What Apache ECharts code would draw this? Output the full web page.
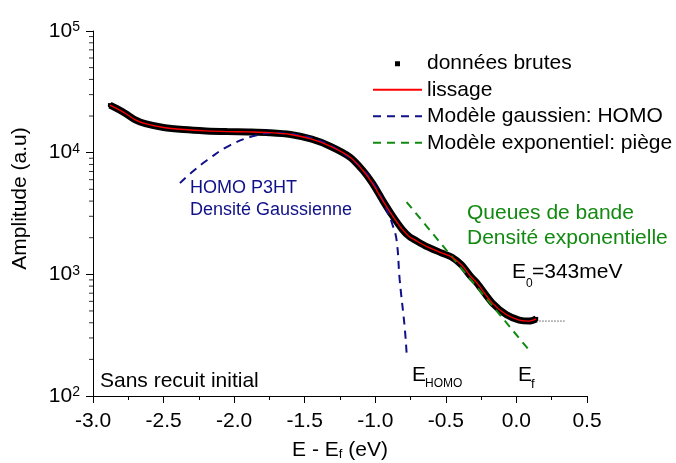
<!DOCTYPE html>
<html><head><meta charset="utf-8">
<script src="https://cdn.jsdelivr.net/npm/echarts@6/dist/echarts.min.js"></script>
<style>html,body{margin:0;padding:0;background:#fff}#c{width:676px;height:463px}</style>
</head><body><div id="c"></div>
<script>
const FONT = '"Liberation Sans", Arial, sans-serif';
const NAVY = '#10108a';
const GREEN = '#128a12';

// raw data
const rawE = [-2.88, -2.83, -2.77, -2.70, -2.63, -2.50, -2.36, -2.20, -2.05, -1.90, -1.75, -1.60, -1.45, -1.32, -1.18, -1.09, -1.02, -0.95, -0.88, -0.81, -0.76, -0.72, -0.63, -0.53, -0.46, -0.39, -0.32, -0.28, -0.17, -0.07, 0.02, 0.09, 0.14];
const rawAmp = [24600, 23000, 21000, 18600, 17300, 16100, 15500, 15100, 14900, 14800, 14600, 14100, 12900, 11300, 9200, 7200, 5600, 4100, 3050, 2350, 2050, 1920, 1680, 1500, 1390, 1200, 950, 850, 580, 465, 421, 413, 430];
// smoothing (lissage)
const smoothE = [-2.88, -2.83, -2.77, -2.70, -2.63, -2.50, -2.36, -2.20, -2.05, -1.90, -1.75, -1.60, -1.45, -1.32, -1.18, -1.09, -1.02, -0.95, -0.88, -0.81, -0.76, -0.72, -0.63, -0.53, -0.46, -0.39, -0.32, -0.28, -0.17, -0.07, 0.02, 0.09, 0.14];
const smoothAmp = [24600, 23000, 21000, 18600, 17300, 16100, 15500, 15100, 14900, 14800, 14600, 14100, 12900, 11300, 9200, 7200, 5600, 4100, 3050, 2350, 2050, 1920, 1680, 1500, 1390, 1200, 950, 850, 580, 465, 421, 413, 430];
// gaussian model (HOMO)
const gaussE = [-2.384, -2.30, -2.19, -2.03, -1.84, -1.70, -1.55, -1.40, -1.25, -1.10, -1.00, -0.948, -0.912, -0.877, -0.849, -0.827, -0.792, -0.778];
const gaussAmp = [5620, 6900, 8700, 11500, 13900, 14500, 14000, 12600, 10300, 7500, 5300, 4070, 3250, 2540, 1910, 900, 370, 225];
// exponential model (traps)
const expoE = [-0.778, 0.107];
const expoAmp = [3930, 225];
// dotted baseline continuation
const dotE = [0.142, 0.34];
const dotAmp = [413, 413];

const xTicks = [-3.0, -2.5, -2.0, -1.5, -1.0, -0.5, 0.0, 0.5];
const yTickExps = [2, 3, 4, 5];
const yMinorTicks = [200,300,400,500,600,700,800,900,2000,3000,4000,5000,6000,7000,8000,9000,20000,30000,40000,50000,60000,70000,80000,90000];

const legendNames = ['données brutes', 'lissage', 'Modèle gaussien: HOMO', 'Modèle exponentiel: piège'];

const zip = (a, b) => a.map((v, i) => [v, b[i]]);

const chart = echarts.init(document.getElementById('c'), null, {renderer: 'canvas'});
chart.setOption({
  backgroundColor: '#fff',
  animation: false,
  textStyle: {fontFamily: FONT},
  grid: {left: 93, right: 89, top: 31, bottom: 67, containLabel: false, outerBoundsMode: 'none'},
  legend: {
    left: 367, top: 45, orient: 'vertical', padding: 5,
    itemWidth: 49, itemHeight: 10, itemGap: 0,
    textStyle: {fontFamily: FONT, fontSize: 21, color: '#000', lineHeight: 26.5},
    data: [
      {name: legendNames[0], icon: 'path://M0,0M49,10M22,3h5v5h-5z'},
      {name: legendNames[1], itemStyle: {opacity: 0}},
      {name: legendNames[2], itemStyle: {opacity: 0}},
      {name: legendNames[3], itemStyle: {opacity: 0}}
    ]
  },
  xAxis: {
    type: 'value', min: -3, max: 0.5, interval: 0.5,
    axisLine: {show: true, onZero: false, lineStyle: {color: '#000', width: 1}},
    axisTick: {show: true, length: 7, lineStyle: {color: '#000'}},
    minorTick: {show: true, splitNumber: 2, length: 4, lineStyle: {color: '#000'}},
    splitLine: {show: false},
    axisLabel: {
      margin: 15, color: '#000', fontSize: 21, fontFamily: FONT,
      formatter: v => { const t = xTicks.find(x => Math.abs(x - v) < 1e-6); return (t !== undefined ? t : v).toFixed(1); }
    },
    name: '{a|E - E}{f|f}{a| (eV)}',
    nameLocation: 'middle', nameGap: 44,
    nameTextStyle: {
      color: '#000', fontFamily: FONT,
      rich: {
        a: {fontSize: 21, lineHeight: 21, fontFamily: FONT, color: '#000', verticalAlign: 'top', padding: [0, 0, 5, 0]},
        f: {fontSize: 13, lineHeight: 13, fontFamily: FONT, color: '#000', verticalAlign: 'bottom'}
      }
    }
  },
  yAxis: {
    type: 'log', logBase: 10, min: 100, max: 100000,
    axisLine: {show: true, onZero: false, lineStyle: {color: '#000', width: 1}},
    axisTick: {show: true, length: 7, lineStyle: {color: '#000'}},
    splitLine: {show: false},
    axisLabel: {
      margin: 13, color: '#000', fontFamily: FONT,
      formatter: v => { const e = Math.round(Math.log10(v)); return yTickExps.includes(e) ? '{b|10}{s|' + e + '}' : ''; },
      rich: {
        b: {fontSize: 21, lineHeight: 21, fontFamily: FONT, color: '#000', verticalAlign: 'bottom', padding: [4, 0, 0, 0]},
        s: {fontSize: 14, lineHeight: 14, fontFamily: FONT, color: '#000', verticalAlign: 'top'}
      }
    },
    name: 'Amplitude (a.u)',
    nameLocation: 'middle', nameGap: 62,
    nameTextStyle: {fontSize: 21, fontFamily: FONT, color: '#000', padding: [0, 0, 0, 30]}
  },
  series: [
    {
      name: legendNames[0], type: 'line', data: zip(rawE, rawAmp),
      smooth: 0.3, symbol: 'rect', symbolSize: 4, showSymbol: true,
      lineStyle: {color: '#000', width: 7}, itemStyle: {color: '#000'},
      z: 2, silent: true
    },
    {
      name: legendNames[2], type: 'line', data: zip(gaussE, gaussAmp),
      smooth: 0.45, symbol: 'none',
      lineStyle: {color: NAVY, width: 2, type: [8, 6]}, itemStyle: {color: NAVY},
      z: 3, silent: true
    },
    {
      name: legendNames[3], type: 'line', data: zip(expoE, expoAmp),
      symbol: 'none',
      lineStyle: {color: GREEN, width: 2, type: [8, 6]}, itemStyle: {color: GREEN},
      z: 3, silent: true
    },
    {
      name: legendNames[1], type: 'line', data: zip(smoothE, smoothAmp),
      smooth: 0.3, symbol: 'none',
      lineStyle: {color: '#ff0000', width: 1.3}, itemStyle: {color: '#ff0000'},
      z: 4, silent: true
    },
    {
      name: 'pointillés', type: 'line', data: zip(dotE, dotAmp),
      symbol: 'none', lineStyle: {color: '#000', width: 1, type: [1, 2]},
      z: 3, silent: true
    },
    {
      name: 'minor-y', type: 'scatter', data: yMinorTicks.map(v => [-3, v]),
      symbol: 'rect', symbolSize: [4, 1], symbolOffset: [-2, 0],
      itemStyle: {color: '#000'}, clip: false, silent: true, z: 5
    }
  ],
  graphic: [
    {type: 'text', x: 190, y: 188, style: {text: 'HOMO P3HT', fontSize: 18, fontFamily: FONT, fill: NAVY, align: 'left', verticalAlign: 'middle'}},
    {type: 'text', x: 190, y: 210.5, style: {text: 'Densité Gaussienne', fontSize: 18, fontFamily: FONT, fill: NAVY, align: 'left', verticalAlign: 'middle'}},
    {type: 'text', x: 467, y: 213, style: {text: 'Queues de bande', fontSize: 21, fontFamily: FONT, fill: GREEN, align: 'left', verticalAlign: 'middle'}},
    {type: 'text', x: 467, y: 238, style: {text: 'Densité exponentielle', fontSize: 21, fontFamily: FONT, fill: GREEN, align: 'left', verticalAlign: 'middle'}},
    {type: 'text', x: 512, y: 272, style: {text: 'E', fontSize: 21, fontFamily: FONT, fill: '#000', align: 'left', verticalAlign: 'middle'}},
    {type: 'text', x: 526, y: 284, style: {text: '0', fontSize: 12, fontFamily: FONT, fill: '#000', align: 'left', verticalAlign: 'middle'}},
    {type: 'text', x: 532, y: 272, style: {text: '=343meV', fontSize: 21, fontFamily: FONT, fill: '#000', align: 'left', verticalAlign: 'middle'}},
    {type: 'text', x: 412, y: 375, style: {text: 'E', fontSize: 21, fontFamily: FONT, fill: '#000', align: 'left', verticalAlign: 'middle'}},
    {type: 'text', x: 425, y: 384, style: {text: 'HOMO', fontSize: 12, fontFamily: FONT, fill: '#000', align: 'left', verticalAlign: 'middle'}},
    {type: 'text', x: 518, y: 375, style: {text: 'E', fontSize: 21, fontFamily: FONT, fill: '#000', align: 'left', verticalAlign: 'middle'}},
    {type: 'text', x: 531, y: 384, style: {text: 'f', fontSize: 13, fontFamily: FONT, fill: '#000', align: 'left', verticalAlign: 'middle'}},
    {type: 'text', x: 100, y: 381, style: {text: 'Sans recuit initial', fontSize: 21, fontFamily: FONT, fill: '#000', align: 'left', verticalAlign: 'middle'}}
  ]
});
</script>
</body></html>
